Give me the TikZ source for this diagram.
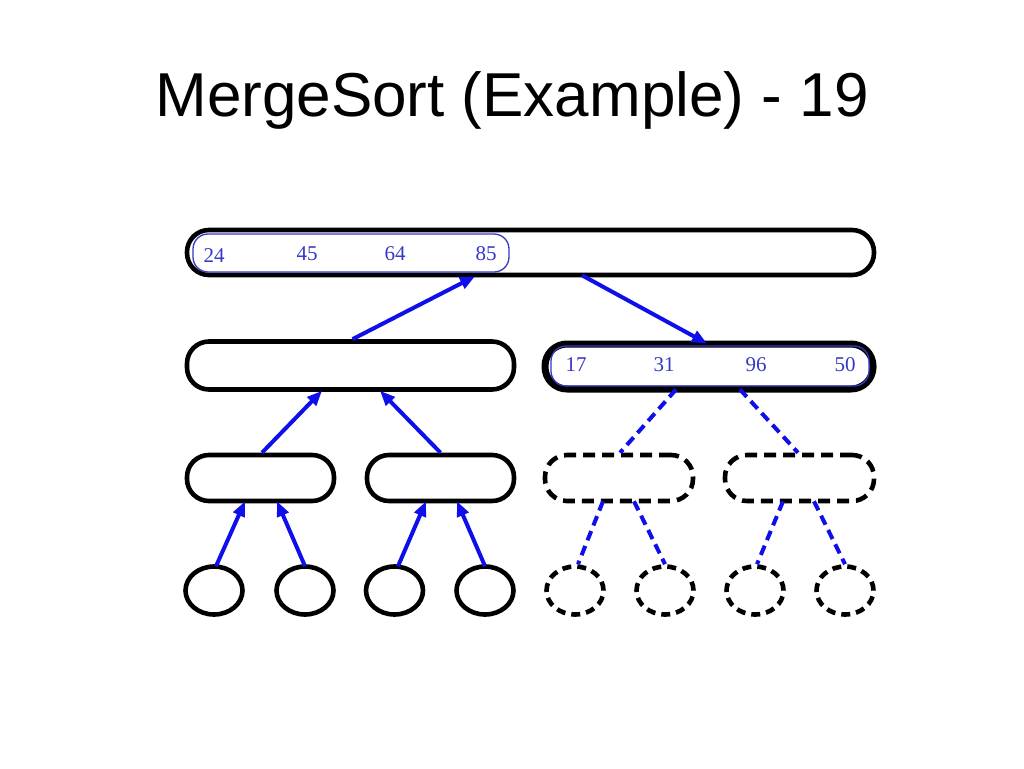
\documentclass[tikz,border=0pt]{standalone}
\usepackage{fontspec}
\setmainfont{Liberation Serif}
\newfontfamily\titlefont{Liberation Sans}
\usetikzlibrary{arrows.meta,shapes.geometric}
\definecolor{arrblue}{RGB}{15,15,235}
\definecolor{numblue}{RGB}{55,55,200}
\tikzset{
  bar/.style={draw=black, line width=4.6pt, rounded corners=22pt, minimum height=45pt, inner sep=0pt, fill=none},
  barthick/.style={bar, line width=7pt},
  dbar/.style={bar, dash pattern=on 12pt off 7pt},
  leaf/.style={draw=black, line width=4.6pt, ellipse, minimum width=57pt, minimum height=48pt, inner sep=0pt},
  dleaf/.style={leaf, dash pattern=on 9pt off 6pt},
  inner/.style={draw=numblue, line width=1.3pt, rounded corners=15pt, inner sep=0pt, minimum height=38pt},
  num/.style={text=numblue, font=\fontsize{21}{21}\selectfont, inner sep=0pt},
  up/.style={draw=arrblue, line width=4pt, -{Triangle[length=15pt,width=12pt]}},
  dlink/.style={draw=arrblue, line width=4pt, dash pattern=on 10pt off 6pt}
}
\begin{document}
\begin{tikzpicture}[x=1pt,y=-1pt]
\useasboundingbox[fill=white] (0,0) rectangle (1024,768);
\node[font=\titlefont\fontsize{62}{62}\selectfont, inner sep=0pt] (title) at (512,100) {MergeSort (Example) - 19};

% level 1
\node[bar, minimum width=687pt] (top) at (530.5,252.5) {};
\node[inner, minimum width=316pt] (topin) at (351,253) {};
\node[num] (n24) at (214,256) {24};
\node[num] (n45) at (307,254) {45};
\node[num] (n64) at (395,254) {64};
\node[num] (n85) at (486,254) {85};

% level 2
\node[bar, minimum width=327pt, minimum height=48pt] (L) at (350.5,365.5) {};
\node[barthick, minimum width=328pt] (R) at (709,366.5) {};
\node[inner, minimum width=318pt, minimum height=40pt] (Rin) at (710,366) {};
\node[num] (n17) at (576,365) {17};
\node[num] (n31) at (664,365) {31};
\node[num] (n96) at (756,365) {96};
\node[num] (n50) at (845,365) {50};

% level 3
\node[bar, minimum width=147pt, minimum height=46pt] (A) at (260.5,478) {};
\node[bar, minimum width=147pt, minimum height=46pt] (B) at (440.5,478) {};
\node[dbar, minimum width=148pt, minimum height=46pt] (C) at (619,478) {};
\node[dbar, minimum width=149pt, minimum height=46pt] (D) at (799.5,478) {};

% level 4
\node[leaf] (c1) at (214,590.5) {};
\node[leaf] (c2) at (305,590.5) {};
\node[leaf] (c3) at (394.5,590.5) {};
\node[leaf] (c4) at (485,590.5) {};
\node[dleaf] (c5) at (575,590.5) {};
\node[dleaf] (c6) at (665,590.5) {};
\node[dleaf] (c7) at (755,590.5) {};
\node[dleaf] (c8) at (845,590.5) {};

% arrows
\draw[up] ([xshift=2pt]L.north) -- ([xshift=-55.5pt,yshift=1pt]top.south);
\draw[up] ([xshift=51.5pt,yshift=2pt]top.south) -- ([xshift=-2pt,yshift=-3pt]R.north);
\draw[up] ([xshift=1.5pt]A.north) -- ([xshift=-28.5pt,yshift=1pt]L.south);
\draw[up] ([xshift=0pt]B.north) -- ([xshift=29.5pt,yshift=1pt]L.south);
\draw[up] ([xshift=2pt,yshift=-2pt]c1.north) -- ([xshift=-15.5pt,yshift=2pt]A.south);
\draw[up] ([xshift=0pt,yshift=-2pt]c2.north) -- ([xshift=16.5pt,yshift=2pt]A.south);
\draw[up] ([xshift=3.5pt,yshift=-2pt]c3.north) -- ([xshift=-14.5pt,yshift=2pt]B.south);
\draw[up] ([xshift=0pt,yshift=-2pt]c4.north) -- ([xshift=16.5pt,yshift=2pt]B.south);

% dashed links
\draw[dlink] ([xshift=-33pt,yshift=3pt]R.south) -- ([xshift=1pt]C.north);
\draw[dlink] ([xshift=31pt,yshift=3pt]R.south) -- ([xshift=-1.5pt]D.north);
\draw[dlink] ([xshift=-16pt,yshift=2pt]C.south) -- ([xshift=3pt]c5.north);
\draw[dlink] ([xshift=15pt,yshift=2pt]C.south) -- ([xshift=0pt]c6.north);
\draw[dlink] ([xshift=-16.5pt,yshift=2pt]D.south) -- ([xshift=2pt]c7.north);
\draw[dlink] ([xshift=14.5pt,yshift=2pt]D.south) -- ([xshift=0pt]c8.north);
\end{tikzpicture}
\end{document}
